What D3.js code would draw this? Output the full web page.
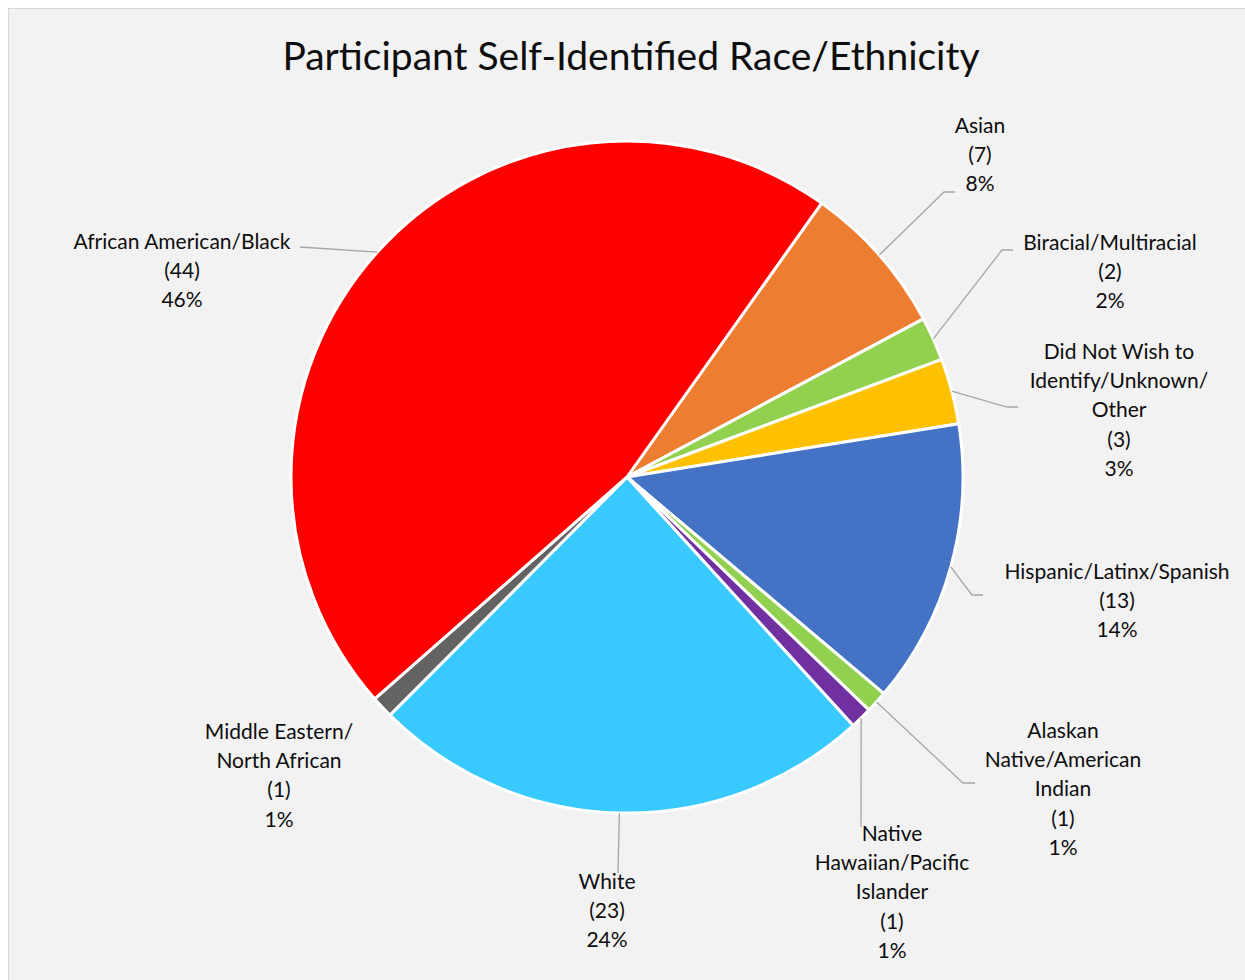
<!DOCTYPE html>
<html>
<head>
<meta charset="utf-8">
<script src="https://cdn.jsdelivr.net/npm/d3@7"></script>
<style>
  html, body { margin: 0; padding: 0; background: #ffffff; }
  svg { display: block; }
  text { font-family: Lato, "Open Sans", "Noto Sans", sans-serif; fill: #0d0d0d; }
</style>
</head>
<body>
<svg id="chart" width="1245" height="980"></svg>
<script>
// ---- data (clockwise order, starting after African American/Black) ----
const categories = [
  "Asian",
  "Biracial/Multiracial",
  "Did Not Wish to|Identify/Unknown/|Other",
  "Hispanic/Latinx/Spanish",
  "Alaskan|Native/American|Indian",
  "Native|Hawaiian/Pacific|Islander",
  "White",
  "Middle Eastern/|North African",
  "African American/Black"
];
const counts = [7, 2, 3, 13, 1, 1, 23, 1, 44];
const percentLabels = ["8%", "2%", "3%", "14%", "1%", "1%", "24%", "1%", "46%"];
const colors = ["#ED7D31", "#92D050", "#FFC000", "#4472C4", "#92D050", "#7030A0", "#38CAFF", "#636363", "#FF0000"];
const title = "Participant Self-Identified Race/Ethnicity";

// ---- layout ----
const W = 1245, H = 980;
const cx = 627, cy = 477, R = 336;
const startDeg = 35.4;
const lineH = 29.4;
// label anchor (center x, first line center y) and leader elbow/end points
const labelLayout = [
  {x: 980,  y: 124, elbow: [944, 192], end: [955, 192]},
  {x: 1110, y: 241, elbow: [1002, 250], end: [1013, 250]},
  {x: 1119, y: 350, elbow: [1007, 407], end: [1018, 407]},
  {x: 1117, y: 570, elbow: [972, 595], end: [983, 595]},
  {x: 1063, y: 729, elbow: [963, 783], end: [975, 783]},
  {x: 892,  y: 832, elbow: null, end: [861, 827]},
  {x: 607,  y: 880, elbow: null, end: [618, 873]},
  {x: 279,  y: 730, elbow: null, end: null},
  {x: 182,  y: 240, elbow: null, end: [300, 247]}
];

const svg = d3.select("#chart");

// chart area background with border
svg.append("rect")
  .attr("x", 8.5).attr("y", 8.5)
  .attr("width", W + 20).attr("height", H + 20)
  .attr("fill", "#F2F2F2")
  .attr("stroke", "#D9D9D9")
  .attr("stroke-width", 1);

// title
svg.append("text")
  .attr("x", 631).attr("y", 55)
  .attr("text-anchor", "middle")
  .attr("dominant-baseline", "central")
  .style("font-size", "39px")
  .text(title);

const data = categories.map((c, i) => ({name: c, value: counts[i], pct: percentLabels[i], color: colors[i], layout: labelLayout[i]}));

const pie = d3.pie()
  .sort(null)
  .value(d => d.value)
  .startAngle(startDeg * Math.PI / 180)
  .endAngle(startDeg * Math.PI / 180 + 2 * Math.PI);

const arcs = pie(data);
const arc = d3.arc().innerRadius(0).outerRadius(R);

const g = svg.append("g").attr("transform", `translate(${cx},${cy})`);

g.selectAll("path.slice")
  .data(arcs)
  .enter().append("path")
  .attr("class", "slice")
  .attr("d", arc)
  .attr("fill", d => d.data.color)
  .attr("stroke", "#ffffff")
  .attr("stroke-width", 3)
  .attr("stroke-linejoin", "round");

// leader lines
arcs.forEach(a => {
  const L = a.data.layout;
  if (!L.end) return;
  const mid = (a.startAngle + a.endAngle) / 2;
  const px = cx + R * Math.sin(mid);
  const py = cy - R * Math.cos(mid);
  const pts = [[px, py]];
  if (L.elbow) pts.push(L.elbow);
  pts.push(L.end);
  svg.append("path")
    .attr("d", d3.line()(pts))
    .attr("fill", "none")
    .attr("stroke", "#A6A6A6")
    .attr("stroke-width", 1.3);
});

// labels
arcs.forEach(a => {
  const L = a.data.layout;
  const lines = a.data.name.split("|").concat([`(${a.data.value})`, a.data.pct]);
  const t = svg.append("text")
    .attr("text-anchor", "middle")
    .style("font-size", "21px");
  lines.forEach((ln, k) => {
    t.append("tspan")
      .attr("x", L.x)
      .attr("y", L.y + k * lineH)
      .attr("dominant-baseline", "central")
      .text(ln);
  });
});
</script>
</body>
</html>
